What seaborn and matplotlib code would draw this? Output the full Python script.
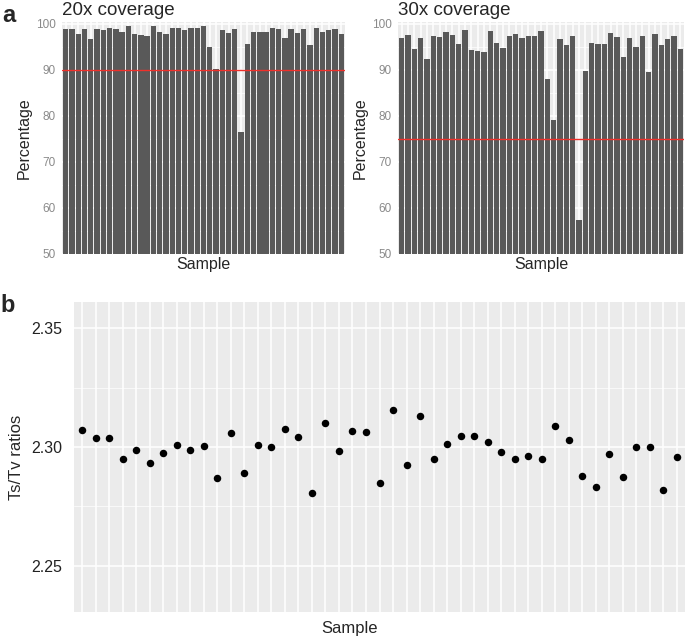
import pandas as pd
import seaborn as sns
import matplotlib.pyplot as plt
from matplotlib.ticker import FixedLocator

# Per-sample values
samples = [f"S{i}" for i in range(1, 46)]

cov20 = [98.9, 98.9, 97.8, 98.8, 96.7, 98.9, 98.7, 99.2, 98.9, 98.2,
         99.6, 97.7, 97.5, 97.4, 99.5, 98.3, 97.9, 99.0, 99.1, 98.7,
         99.0, 99.1, 99.5, 94.9, 90.2, 98.6, 98.1, 98.8, 76.6, 95.7,
         98.3, 98.3, 98.3, 99.1, 98.8, 96.9, 98.8, 98.1, 98.9, 95.5,
         99.1, 98.2, 98.7, 98.8, 97.8]

cov30 = [97.0, 97.5, 94.6, 97.0, 92.4, 97.3, 97.1, 98.2, 97.5, 95.6,
         98.7, 94.3, 94.1, 93.9, 98.5, 95.9, 94.8, 97.3, 97.7, 97.0,
         97.4, 97.4, 98.4, 88.0, 79.2, 96.6, 95.3, 97.3, 57.3, 89.7,
         95.9, 95.7, 95.7, 98.0, 97.1, 92.8, 97.0, 94.9, 97.4, 89.6,
         97.8, 95.4, 96.6, 97.3, 94.6]

tstv = [2.3073, 2.3038, 2.3037, 2.2947, 2.2986, 2.2931, 2.2976, 2.3007, 2.2986, 2.3003,
        2.2867, 2.3060, 2.2890, 2.3010, 2.3001, 2.3074, 2.3042, 2.2808, 2.3100, 2.2982,
        2.3067, 2.3063, 2.2846, 2.3154, 2.2924, 2.3129, 2.2948, 2.3011, 2.3046, 2.3048,
        2.3020, 2.2979, 2.2947, 2.2962, 2.2948, 2.3086, 2.3027, 2.2878, 2.2831, 2.2972,
        2.2874, 2.3001, 2.2999, 2.2820, 2.2958]

thresholds = {"20x coverage": 90, "30x coverage": 75}

df = pd.DataFrame({"sample": samples, "cov20": cov20, "cov30": cov30, "tstv": tstv})

sns.set_theme(style="darkgrid", rc={"axes.facecolor": "#EBEBEB",
                                    "grid.color": "white"})
plt.rcParams["font.family"] = ["Liberation Sans", "DejaVu Sans"]

W, H = 685, 638
fig = plt.figure(figsize=(W / 100, H / 100), dpi=100)


def px_axes(x0, y0, x1, y1):
    return fig.add_axes([x0 / W, 1 - y1 / H, (x1 - x0) / W, (y1 - y0) / H])


def style_grid(ax):
    ax.set_axisbelow(True)
    ax.grid(which="major", color="white", linewidth=1.1)
    ax.grid(which="minor", color="white", linewidth=0.5)
    for s in ax.spines.values():
        s.set_visible(False)


# Panel a: coverage bars
for (x0, x1), col, title in [((62, 345), "cov20", "20x coverage"),
                             ((398, 684), "cov30", "30x coverage")]:
    ax = px_axes(x0, 22, x1, 254)
    sns.barplot(data=df, x="sample", y=col, color="#595959", saturation=1,
                width=0.85, linewidth=0, ax=ax)
    ax.axhline(thresholds[title], color="#F0302A", linewidth=1.0, zorder=5)
    ax.set_xlim(-0.6, 44.6)
    ax.set_ylim(50, 100.4)
    ax.yaxis.set_major_locator(FixedLocator([50, 60, 70, 80, 90, 100]))
    ax.yaxis.set_minor_locator(FixedLocator([55, 65, 75, 85, 95]))
    style_grid(ax)
    ax.tick_params(axis="x", labelbottom=False, length=0)
    ax.tick_params(axis="y", which="major", labelsize=8.5, labelcolor="#8A8A8A",
                   length=2.5, width=0.6, color="#8A8A8A", pad=2)
    ax.tick_params(axis="y", which="minor", length=0)
    ax.set_xlabel("Sample", fontsize=11.5, labelpad=2)
    ax.set_ylabel("Percentage", fontsize=11.5, labelpad=3)
    ax.set_title(title, loc="left", fontsize=13.5, pad=5)

# Panel b: Ts/Tv ratios
axb = px_axes(74, 302, 685, 612)
sns.stripplot(data=df, x="sample", y="tstv", color="black", jitter=False,
              size=5.4, ax=axb)
axb.set_xlim(-0.6, 44.6)
axb.set_ylim(2.2305, 2.361)
axb.yaxis.set_major_locator(FixedLocator([2.25, 2.30, 2.35]))
axb.yaxis.set_minor_locator(FixedLocator([2.275, 2.325]))
axb.set_yticklabels(["2.25", "2.30", "2.35"])
style_grid(axb)
axb.tick_params(axis="x", labelbottom=False, length=0)
axb.tick_params(axis="y", which="major", labelsize=11.5, labelcolor="#222222",
                length=2.5, width=0.6, color="#8A8A8A", pad=6)
axb.tick_params(axis="y", which="minor", length=0)
axb.set_xlabel("Sample", fontsize=12)
axb.xaxis.set_label_coords((350 - 74) / (685 - 74), -0.03, transform=axb.transAxes)
axb.xaxis.label.set_va("top")
axb.set_ylabel("Ts/Tv ratios", fontsize=12, labelpad=5)

fig.text(2 / W, 1 - 4 / H, "a", fontsize=17, fontweight="bold", va="top")
fig.text(0 / W, 1 - 294 / H, "b", fontsize=17, fontweight="bold", va="top")

fig.savefig("out.png", dpi=100)
